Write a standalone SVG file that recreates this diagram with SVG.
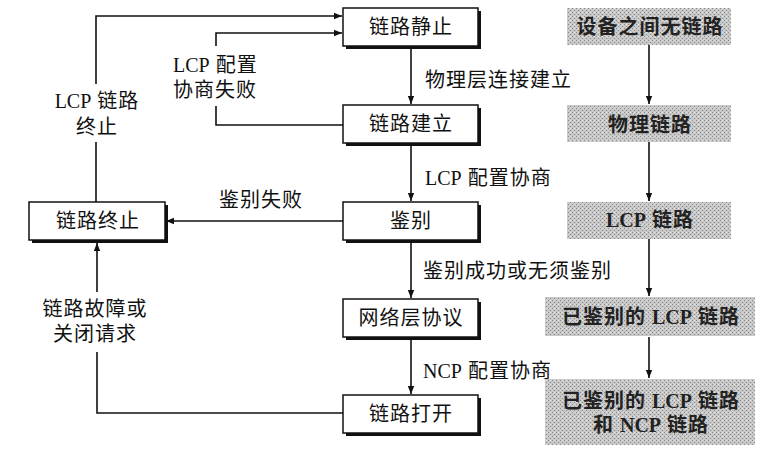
<svg xmlns="http://www.w3.org/2000/svg" width="778" height="454" viewBox="0 0 778 454">
<defs>
<marker id="ah" viewBox="0 0 10 10" refX="10" refY="5" markerWidth="8" markerHeight="8" markerUnits="userSpaceOnUse" orient="auto">
<path d="M0,1 L10,5 L0,9 Z" fill="#111"/>
</marker>
<pattern id="stip" width="4" height="4" patternUnits="userSpaceOnUse">
<rect width="4" height="4" fill="#c8c8c8"/>
<rect x="0" y="0" width="1" height="1" fill="#8a8a8a"/>
<rect x="2" y="2" width="1" height="1" fill="#8a8a8a"/>
<rect x="2" y="0" width="1" height="1" fill="#e6e6e6"/>
</pattern>
<style>
.box{fill:#fff;stroke:#111;stroke-width:1.5}
.sh{fill:#111}
.g{fill:url(#stip)}
.t{font-family:"Liberation Serif","Noto Sans CJK SC",serif;font-size:20px;letter-spacing:1px;fill:#111;dominant-baseline:central}
.l{letter-spacing:0}
.c{text-anchor:middle}
.b{font-weight:bold;fill:#222}
.ln{fill:none;stroke:#111;stroke-width:1.6}
</style>
</defs>

<g id="connectors">
<path class="ln" d="M96,202 V16 H342" marker-end="url(#ah)"/>
<path class="ln" d="M343,125 H216 V33 H342" marker-end="url(#ah)"/>
<path class="ln" d="M343,221 H166" marker-end="url(#ah)"/>
<path class="ln" d="M343,413 H97 V243" marker-end="url(#ah)"/>
<path class="ln" d="M411,47 V104" marker-end="url(#ah)"/>
<path class="ln" d="M411,144 V201" marker-end="url(#ah)"/>
<path class="ln" d="M411,241 V298" marker-end="url(#ah)"/>
<path class="ln" d="M411,338 V394" marker-end="url(#ah)"/>
<path class="ln" d="M649,45 V104" marker-end="url(#ah)"/>
<path class="ln" d="M649,142 V201" marker-end="url(#ah)"/>
<path class="ln" d="M649,239 V296" marker-end="url(#ah)"/>
<path class="ln" d="M649,337 V378" marker-end="url(#ah)"/>
</g>

<g id="edge-labels">
<rect x="54" y="84" width="86" height="58" fill="#fff"/>
<text class="t c" x="97" y="101"><tspan class="l">LCP</tspan> 链路</text>
<text class="t c" x="97" y="127">终止</text>
<rect x="170" y="46" width="92" height="60" fill="#fff"/>
<text class="t" x="173" y="65"><tspan class="l">LCP</tspan> 配置</text>
<text class="t" x="173" y="90">协商失败</text>
<text class="t c" x="261" y="200">鉴别失败</text>
<rect x="38" y="292" width="116" height="60" fill="#fff"/>
<text class="t c" x="95" y="309">链路故障或</text>
<text class="t c" x="95" y="334">关闭请求</text>
<text class="t" x="425" y="80">物理层连接建立</text>
<text class="t" x="425" y="178"><tspan class="l">LCP</tspan> 配置协商</text>
<text class="t" x="423" y="271">鉴别成功或无须鉴别</text>
<text class="t" x="423" y="371"><tspan class="l">NCP</tspan> 配置协商</text>
</g>

<g id="n-quiet">
<rect class="sh" x="346" y="11" width="135" height="38"/>
<rect class="box" x="343" y="8" width="135" height="38"/>
<text class="t c" x="411" y="27">链路静止</text>
</g>
<g id="n-establish">
<rect class="sh" x="346" y="108" width="135" height="38"/>
<rect class="box" x="343" y="105" width="135" height="38"/>
<text class="t c" x="411" y="124">链路建立</text>
</g>
<g id="n-auth">
<rect class="sh" x="346" y="205" width="135" height="38"/>
<rect class="box" x="343" y="202" width="135" height="38"/>
<text class="t c" x="411" y="221">鉴别</text>
</g>
<g id="n-network">
<rect class="sh" x="346" y="302" width="135" height="38"/>
<rect class="box" x="343" y="299" width="135" height="38"/>
<text class="t c" x="411" y="318">网络层协议</text>
</g>
<g id="n-open">
<rect class="sh" x="346" y="398" width="135" height="38"/>
<rect class="box" x="343" y="395" width="135" height="38"/>
<text class="t c" x="411" y="414">链路打开</text>
</g>
<g id="n-terminate">
<rect class="sh" x="32" y="205" width="136" height="38"/>
<rect class="box" x="29" y="202" width="136" height="38"/>
<text class="t c" x="98" y="221">链路终止</text>
</g>

<g id="s-nolink">
<rect class="g" x="567" y="8" width="164" height="37"/>
<text class="t c b" x="650" y="27">设备之间无链路</text>
</g>
<g id="s-phys">
<rect class="g" x="567" y="105" width="164" height="37"/>
<text class="t c b" x="650" y="125">物理链路</text>
</g>
<g id="s-lcp">
<rect class="g" x="567" y="202" width="164" height="37"/>
<text class="t c b" x="650" y="220"><tspan class="l">LCP</tspan> 链路</text>
</g>
<g id="s-authlcp">
<rect class="g" x="545" y="297" width="210" height="39"/>
<text class="t c b" x="651" y="317">已鉴别的 <tspan class="l">LCP</tspan> 链路</text>
</g>
<g id="s-authncp">
<rect class="g" x="545" y="379" width="210" height="66"/>
<text class="t c b" x="651" y="401">已鉴别的 <tspan class="l">LCP</tspan> 链路</text>
<text class="t c b" x="651" y="425">和 <tspan class="l">NCP</tspan> 链路</text>
</g>
</svg>
